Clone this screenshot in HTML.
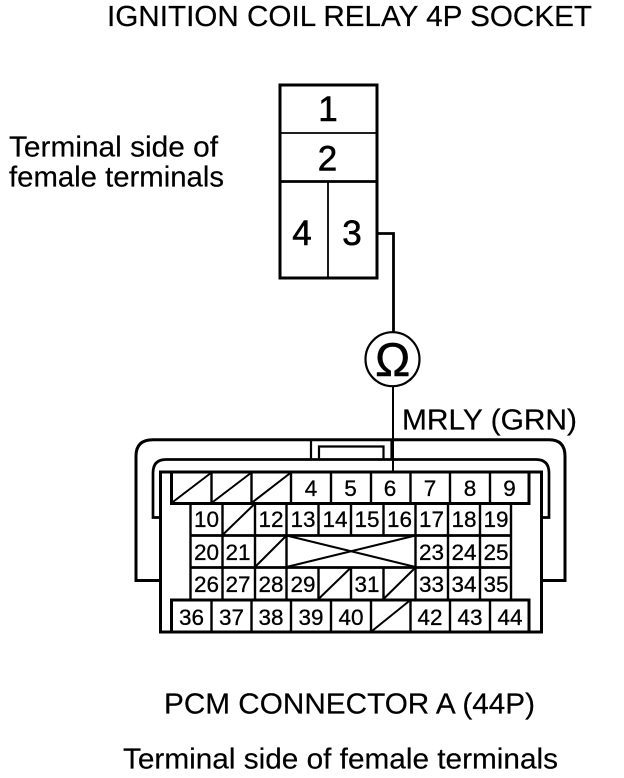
<!DOCTYPE html>
<html><head><meta charset="utf-8"><style>html,body{margin:0;padding:0;background:#fff}svg{display:block}text{font-family:"Liberation Sans",sans-serif;fill:#000}.n{font-size:22.500px;text-anchor:middle;stroke:#000;stroke-width:.3}.b{font-size:35px;text-anchor:middle;stroke:#000;stroke-width:.6}.t{font-size:28.500px;stroke:#000;stroke-width:.2}</style></head><body>
<svg width="624" height="778" viewBox="0 0 624 778" xmlns="http://www.w3.org/2000/svg">
<rect width="624" height="778" fill="#fff"/>
<text class="t" x="107" y="26" textLength="485" lengthAdjust="spacingAndGlyphs">IGNITION COIL RELAY 4P SOCKET</text>
<text class="t" x="9" y="156.500" textLength="209" lengthAdjust="spacingAndGlyphs">Terminal side of</text>
<text class="t" x="9" y="186.500" textLength="215" lengthAdjust="spacingAndGlyphs">female terminals</text>
<text class="t" x="402" y="429.500" textLength="175" lengthAdjust="spacingAndGlyphs">MRLY (GRN)</text>
<text class="t" x="164" y="713.500" textLength="371" lengthAdjust="spacingAndGlyphs">PCM CONNECTOR A (44P)</text>
<text class="t" x="123" y="768.500" textLength="435" lengthAdjust="spacingAndGlyphs">Terminal side of female terminals</text>

<g fill="none" stroke="#000">
<rect x="280" y="85" width="97" height="193" stroke-width="3"/>
<path d="M280 133H377" stroke-width="1.8"/>
<path d="M280 181.500H377" stroke-width="2.800"/>
<path d="M328 181V278" stroke-width="1.800"/>
<path d="M378 233.500H393.500V333" stroke-width="2.800"/>
<circle cx="392.500" cy="359.200" r="27" stroke-width="2.200"/>
<path d="M393 387V471" stroke-width="2"/>

<path d="M160 580.500H136V456Q136 439.700 153 439.700H549Q565 439.700 565 456V580.500H541" stroke-width="3"/>
<path d="M160 517.500H153V473Q153 459.500 166 459.500H536Q549 459.500 549 473V517.500H541" stroke-width="2.700"/>
<path d="M311 440V459M319 459V446.500H383.500V459M391.500 440V459" stroke-width="2.200"/>
<rect x="160.500" y="472" width="381" height="160" fill="#fff" stroke-width="3"/>
<path d="M171.500 472V503.500H529V472" stroke-width="3"/>
<path d="M171.500 632V600H529V632" stroke-width="3"/>
<path d="M211.500 472V503M251.500 472V503M291 472V503M331 472V503M371 472V503M410.500 472V503M450 472V503M490 472V503" stroke-width="2.400"/>
<path d="M211.500 600V631M251.500 600V631M291 600V631M331 600V631M371 600V631M410.500 600V631M450 600V631M490 600V631" stroke-width="2.400"/>
<path d="M171.500 503L211.500 472.500M211.500 503L251.500 472.500M251.500 503L291 472.500M372 631L410.500 600" stroke-width="2"/>
<path d="M190.500 503V600M511 503V600" stroke-width="2.400"/>
<path d="M190 535.500H512M190 567.500H512" stroke-width="2.800"/>
<path d="M222.500 503V600M255 503V600M286.500 503V600M318.500 503V535M351 503V535M383.500 503V535M415.500 503V600M448 503V600M480 503V600M318.500 567V600M351 567V600M383.500 567V600" stroke-width="2.400"/>
<path d="M222.500 535L255 503.500M255 567L286.500 535.500M318.500 599L351 567.500M383.500 599L415.500 567.500M286.500 535.500L415.500 567M286.500 567L415.500 535.500" stroke-width="2"/>
</g>

<text class="b" x="328" y="121">1</text>
<text class="b" x="327.500" y="170.500">2</text>
<text class="b" x="302" y="245">4</text>
<text class="b" x="352" y="245">3</text>
<text x="392.700" y="376" font-size="47" text-anchor="middle" stroke="#000" stroke-width=".6">Ω</text>

<g>
<text class="n" x="311" y="496">4</text><text class="n" x="350.500" y="496">5</text><text class="n" x="390" y="496">6</text><text class="n" x="430" y="496">7</text><text class="n" x="470" y="496">8</text><text class="n" x="509.500" y="496">9</text>
<text class="n" x="206.500" y="527">10</text><text class="n" x="271" y="527">12</text><text class="n" x="303" y="527">13</text><text class="n" x="335" y="527">14</text><text class="n" x="367" y="527">15</text><text class="n" x="399.500" y="527">16</text><text class="n" x="431.500" y="527">17</text><text class="n" x="464" y="527">18</text><text class="n" x="496" y="527">19</text>
<text class="n" x="206.500" y="560">20</text><text class="n" x="238" y="560">21</text><text class="n" x="431.500" y="560">23</text><text class="n" x="464" y="560">24</text><text class="n" x="496" y="560">25</text>
<text class="n" x="206.500" y="592">26</text><text class="n" x="238" y="592">27</text><text class="n" x="271" y="592">28</text><text class="n" x="303" y="592">29</text><text class="n" x="367" y="592">31</text><text class="n" x="431.500" y="592">33</text><text class="n" x="464" y="592">34</text><text class="n" x="496" y="592">35</text>
<text class="n" x="191.500" y="625">36</text><text class="n" x="231.500" y="625">37</text><text class="n" x="271" y="625">38</text><text class="n" x="311" y="625">39</text><text class="n" x="351" y="625">40</text><text class="n" x="430" y="625">42</text><text class="n" x="470" y="625">43</text><text class="n" x="510" y="625">44</text>
</g>
</svg>
</body></html>
